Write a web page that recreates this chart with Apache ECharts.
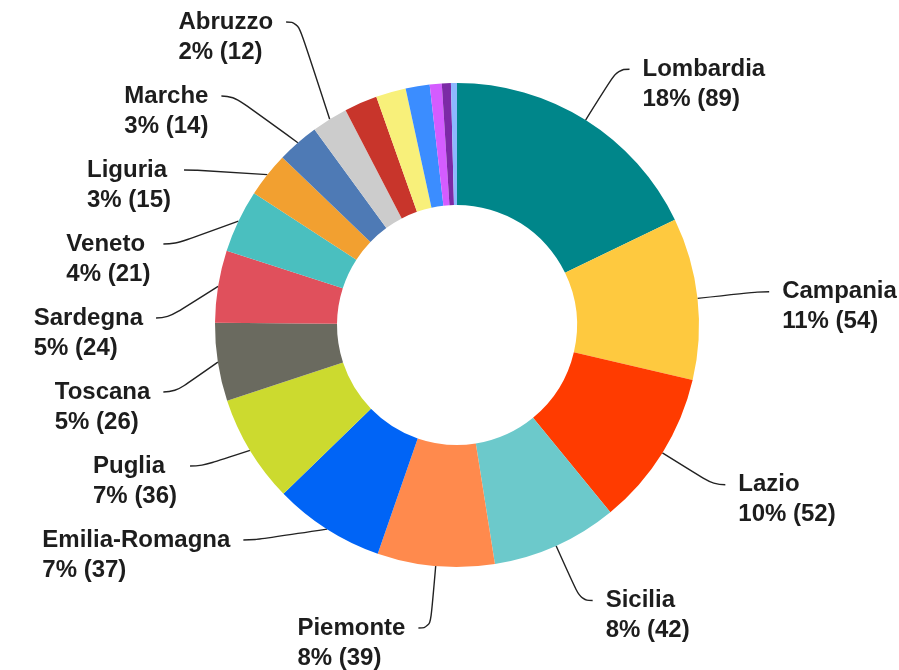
<!DOCTYPE html>
<html>
<head>
<meta charset="utf-8">
<script src="https://cdn.jsdelivr.net/npm/echarts@6/dist/echarts.min.js"></script>
<style>
  html, body { margin: 0; padding: 0; background: #fff; }
  #chart { width: 899px; height: 670px; }
</style>
</head>
<body>
<div id="chart"></div>
<script>
// regioni, in senso orario partendo dall'alto
const regions = ['Lombardia', 'Campania', 'Lazio', 'Sicilia', 'Piemonte', 'Emilia-Romagna',
    'Puglia', 'Toscana', 'Sardegna', 'Veneto', 'Liguria', 'Marche', 'Abruzzo',
    'Calabria', 'Friuli-Venezia Giulia', 'Trentino-Alto Adige', 'Umbria', 'Basilicata', 'Molise'];
const counts = [89, 54, 52, 42, 39, 37, 36, 26, 24, 21, 15, 14, 12, 11, 10, 8, 4, 3, 2];
const colors = ['#00868a', '#fec93f', '#ff3b00', '#6cc9cb', '#ff8a4d', '#0064f6',
    '#ccda2f', '#6a6a5f', '#e0505c', '#4abfbf', '#f2a030', '#4e7ab5', '#cccccc',
    '#c8352b', '#f8f07a', '#3b8dff', '#d45cff', '#7c2aa6', '#8db8ff'];
// quante fette hanno l'etichetta
const labelled = 13;

const total = counts.reduce((a, b) => a + b, 0);

const LINE_H = 30;
const PAD = 6;
const FONT = 'Liberation Sans';
// spazio in più sopra l'etichetta del Piemonte
const padTop = (name) => name === 'Piemonte' ? PAD + 28 : PAD;

const chart = echarts.init(document.getElementById('chart'));

const data = regions.map((name, i) => {
    const item = {
        name: name,
        value: counts[i],
        itemStyle: { color: colors[i] },
        label: { padding: [padTop(name), 0, PAD, 0] }
    };
    if (i >= labelled) {
        item.label = { show: false };
        item.labelLine = { show: false };
    }
    return item;
});

chart.setOption({
    animation: false,
    series: [{
        type: 'pie',
        // area più alta del canvas, così le etichette possono usare i bordi
        top: -30,
        height: 709,
        center: [457, 355],
        radius: [120, 242],
        startAngle: 90,
        clockwise: true,
        avoidLabelOverlap: true,
        data: data,
        label: {
            show: true,
            position: 'outside',
            alignTo: 'none',
            overflow: 'none',
            distanceToLabelLine: 13,
            color: '#1d1d1d',
            fontFamily: FONT,
            fontWeight: 'bold',
            fontSize: 24,
            lineHeight: LINE_H,
            formatter: function (p) {
                const pct = Math.round(p.value / total * 100);
                return '{a|' + p.name + '}\n{a|' + pct + '% (' + p.value + ')}';
            },
            rich: {
                a: {
                    align: 'left',
                    color: '#1d1d1d',
                    fontFamily: FONT,
                    fontWeight: 'bold',
                    fontSize: 24,
                    lineHeight: LINE_H
                }
            }
        },
        labelLine: {
            show: true,
            length: 60,
            length2: 12,
            smooth: 0.5,
            lineStyle: { color: '#222', width: 1.4 }
        },
        // la linea si aggancia alla prima riga dell'etichetta
        labelLayout: function (params) {
            const r = params.labelRect;
            const name = regions[params.dataIndex];
            return {
                y: r.y + r.height / 2 - padTop(name) - LINE_H / 2,
                verticalAlign: 'top',
                labelLinePoints: params.labelLinePoints
            };
        }
    }]
});
</script>
</body>
</html>
